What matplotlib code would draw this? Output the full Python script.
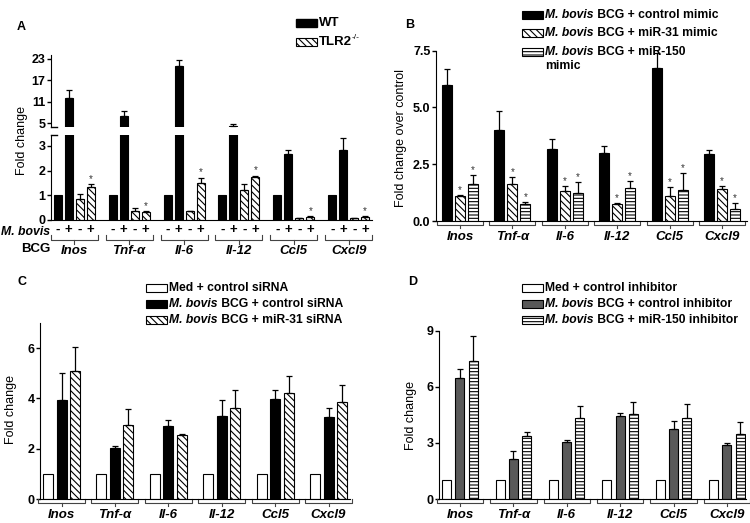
import matplotlib
matplotlib.use("Agg")
import matplotlib.pyplot as plt
from matplotlib.patches import Rectangle
from matplotlib.text import Annotation

plt.rcParams["font.family"] = ["Liberation Sans", "DejaVu Sans"]
plt.rcParams["font.weight"] = "bold"
plt.rcParams["hatch.linewidth"] = 0.8

W, H = 750, 523

genes = ["Inos", "Tnf-α", "Il-6", "Il-12", "Ccl5", "Cxcl9"]

# Panel A: WT vs TLR2-/-, medium (-) or M. bovis BCG (+)
a_wt_neg = [1, 1, 1, 1, 1, 1]
a_wt_pos = [11.9, 6.9, 20.9, 4.3, 2.68, 2.85]
a_wt_pos_err = [2.4, 1.6, 1.8, 0.4, 0.14, 0.45]
a_ko_neg = [0.85, 0.38, 0.35, 1.2, 0.08, 0.07]
a_ko_neg_err = [0.2, 0.12, 0.02, 0.25, 0.02, 0.01]
a_ko_pos = [1.33, 0.33, 1.48, 1.75, 0.14, 0.12]
a_ko_pos_err = [0.14, 0.02, 0.24, 0.05, 0.02, 0.03]

# Panel B: mimics
b_ctrl = [6.0, 4.0, 3.15, 3.0, 6.75, 2.95]
b_ctrl_err = [0.7, 0.85, 0.47, 0.3, 0.65, 0.17]
b_mir31 = [1.1, 1.65, 1.3, 0.75, 1.1, 1.4]
b_mir31_err = [0.03, 0.28, 0.25, 0.05, 0.4, 0.12]
b_mir150 = [1.65, 0.75, 1.25, 1.45, 1.35, 0.55]
b_mir150_err = [0.38, 0.07, 0.45, 0.3, 0.77, 0.23]

# Panel C: siRNA
c_med = [1, 1, 1, 1, 1, 1]
c_ctrl = [3.95, 2.03, 2.9, 3.3, 3.98, 3.27]
c_ctrl_err = [1.05, 0.07, 0.25, 0.62, 0.34, 0.33]
c_mir31 = [5.1, 2.93, 2.53, 3.6, 4.22, 3.85]
c_mir31_err = [0.95, 0.65, 0.07, 0.75, 0.68, 0.67]

# Panel D: inhibitors
d_med = [1, 1, 1, 1, 1, 1]
d_ctrl = [6.45, 2.12, 3.05, 4.45, 3.75, 2.88]
d_ctrl_err = [0.5, 0.43, 0.1, 0.15, 0.4, 0.1]
d_mir150 = [7.38, 3.35, 4.32, 4.57, 4.32, 3.48]
d_mir150_err = [1.32, 0.23, 0.66, 0.63, 0.78, 0.64]

TICK_FS = 9
GENE_FS = 9.5
LEG_FS = 8.7

fig = plt.figure(figsize=(W / 100, H / 100), dpi=100)


def px_axes(left, top, right, bottom):
    return fig.add_axes([left / W, 1 - bottom / H, (right - left) / W, (bottom - top) / H])


def style(ax, ticks, labels=None):
    ax.spines[["top", "right"]].set_visible(False)
    ax.set_yticks(ticks)
    ax.set_yticklabels(labels if labels else [str(t) for t in ticks], fontweight="bold",
                       fontsize=TICK_FS)
    ax.tick_params(axis="y", direction="out", length=3, width=1, pad=1)
    ax.tick_params(axis="x", length=0, labelbottom=False)


def draw_series(ax, xs, vals, errs, width, face, hatch=None, stars=False, ytop=None):
    ax.bar(xs, vals, width=width, color=face, edgecolor="black", linewidth=0.8,
           hatch=hatch, zorder=2)
    if errs is not None:
        ax.errorbar(xs, vals, yerr=[[0] * len(vals), errs], fmt="none", ecolor="black",
                    elinewidth=0.9, capsize=2, capthick=0.9, zorder=3)
    if stars:
        for x, v, e in zip(xs, vals, errs):
            top = v + e
            if ytop is None or top < ytop:
                ax.text(x, top, "*", ha="center", va="bottom", fontsize=7,
                        fontweight="normal", color="#333333")


def brackets(ax, centers, half, axh_px):
    tr = ax.get_xaxis_transform()
    for c, g in zip(centers, genes):
        ax.plot([c - half, c - half, c + half, c + half],
                [0, -4 / axh_px, -4 / axh_px, 0], color="#444444",
                lw=0.8, transform=tr, clip_on=False)
        ax.plot([c, c], [-4 / axh_px, -7 / axh_px], color="#444444", lw=0.8, transform=tr,
                clip_on=False)
        ax.text(c, -16 / axh_px, g, transform=tr, ha="center", va="center",
                fontsize=GENE_FS, fontstyle="italic", fontweight="bold")


def legend(items, x, y0, dy, size=LEG_FS):
    for i, (face, hatch, italic, rest) in enumerate(items):
        y = y0 + i * dy
        fig.add_artist(Rectangle((x / W, 1 - (y + 4) / H), 21 / W, 8 / H, facecolor=face,
                                 edgecolor="black", hatch=hatch, linewidth=0.8,
                                 transform=fig.transFigure))
        tx = x + 23
        if italic:
            t = fig.text(tx / W, 1 - y / H, italic, fontsize=size, fontstyle="italic",
                         fontweight="bold", va="center")
            fig.add_artist(Annotation(rest, xy=(1, 0), xycoords=t, va="bottom", ha="left",
                                      fontsize=size, fontweight="bold"))
        else:
            fig.text(tx / W, 1 - y / H, rest, fontsize=size, fontweight="bold", va="center")


HATCH_D = "\\\\\\\\\\"
HATCH_H = "-----"

# ---------------- Panel A (broken axis) ----------------
a_left, a_right = 51, 372
a_first, a_gp, a_bp, a_bw = 57.7, 54.9, 11.0, 8.0
ax_lo = px_axes(a_left, 135, a_right, 220)
ax_hi = px_axes(a_left, 55, a_right, 127)
for ax, lo, hi in [(ax_lo, 0, 3.44), (ax_hi, 3.9, 24.1)]:
    ax.set_xlim(a_left, a_right)
    ax.set_ylim(lo, hi)
    for j, (vals, errs, face, hatch, st) in enumerate([
            (a_wt_neg, None, "black", None, False),
            (a_wt_pos, a_wt_pos_err, "black", None, False),
            (a_ko_neg, a_ko_neg_err, "white", HATCH_D, False),
            (a_ko_pos, a_ko_pos_err, "white", HATCH_D, True)]):
        xs = [a_first + i * a_gp + j * a_bp for i in range(6)]
        draw_series(ax, xs, vals, errs, a_bw, face, hatch, st and ax is ax_lo, ytop=3.4)
style(ax_lo, [0, 1, 2, 3])
style(ax_hi, [5, 11, 17, 23])
ax_hi.spines["bottom"].set_visible(False)
# break marks
for ax, yv in [(ax_hi, 0.0), (ax_lo, 1.0)]:
    ax.plot([0, 6 / (a_right - a_left)], [yv, yv], transform=ax.transAxes, color="black",
            lw=1, clip_on=False)

tr = ax_lo.get_xaxis_transform()
for i in range(6):
    for j, s in enumerate(["-", "+", "-", "+"]):
        ax_lo.text(a_first + i * a_gp + j * a_bp, -10 / 85, s, transform=tr, ha="center",
                   va="center", fontsize=9.5, fontweight="bold")
    c = a_first + i * a_gp + 1.5 * a_bp
    half = 1.5 * a_bp + 7
    ax_lo.plot([c - half, c - half, c + half, c + half], [-15 / 85, -20 / 85, -20 / 85, -15 / 85],
               transform=tr, color="#444444", lw=0.8, clip_on=False)
    ax_lo.plot([c, c], [-20 / 85, -24 / 85], transform=tr, color="#444444", lw=0.8,
               clip_on=False)
    ax_lo.text(c, -31 / 85, genes[i], transform=tr, ha="center", va="center", fontsize=GENE_FS,
               fontstyle="italic", fontweight="bold")
fig.text(50 / W, 1 - 232 / H, "M. bovis", ha="right", va="center", fontsize=8.8,
         fontstyle="italic", fontweight="bold")
fig.text(50 / W, 1 - 249 / H, "BCG", ha="right", va="center", fontsize=9.5, fontweight="bold")
fig.text(22 / W, 1 - 140 / H, "Fold change", rotation=90, ha="center", va="center",
         fontsize=9, fontweight="normal")
fig.text(17 / W, 1 - 27 / H, "A", ha="left", va="center", fontsize=9, fontweight="bold")

fig.add_artist(Rectangle((296 / W, 1 - 27 / H), 21 / W, 8 / H, facecolor="black",
                         edgecolor="black", transform=fig.transFigure))
fig.add_artist(Rectangle((296 / W, 1 - 46 / H), 21 / W, 8 / H, facecolor="white",
                         edgecolor="black", hatch=HATCH_D, lw=0.8, transform=fig.transFigure))
fig.text(319 / W, 1 - 23 / H, "WT", va="center", fontsize=9.5, fontweight="bold")
tlr = fig.text(319 / W, 1 - 42 / H, "TLR2", va="center", fontsize=9.5, fontweight="bold")
fig.add_artist(Annotation("-/-", xy=(1, 0.55), xycoords=tlr, va="bottom", ha="left",
                          fontsize=6, fontweight="normal"))

# ---------------- Panel B ----------------
b_left, b_right = 436, 747
b_first, b_gp, b_bp, b_bw = 447, 52.4, 13.0, 10.0
axb = px_axes(b_left, 50.7, b_right, 221)
axb.set_xlim(b_left, b_right)
axb.set_ylim(0, 7.5)
for j, (vals, errs, face, hatch, st) in enumerate([
        (b_ctrl, b_ctrl_err, "black", None, False),
        (b_mir31, b_mir31_err, "white", HATCH_D, True),
        (b_mir150, b_mir150_err, "white", HATCH_H, True)]):
    xs = [b_first + i * b_gp + j * b_bp for i in range(6)]
    draw_series(axb, xs, vals, errs, b_bw, face, hatch, st)
style(axb, [0, 2.5, 5.0, 7.5], ["0.0", "2.5", "5.0", "7.5"])
brackets(axb, [b_first + i * b_gp + b_bp for i in range(6)], b_bp + 10, 170)
fig.text(401 / W, 1 - 138 / H, "Fold change over control", rotation=90, ha="center",
         va="center", fontsize=9, fontweight="normal")
fig.text(405 / W, 1 - 25 / H, "B", ha="left", va="center", fontsize=9, fontweight="bold")
legend([("black", None, "M. bovis", " BCG + control mimic"),
        ("white", HATCH_D, "M. bovis", " BCG + miR-31 mimic"),
        ("white", HATCH_H, "M. bovis", " BCG + miR-150")], 522, 15, 18.3)
fig.text(545 / W, 1 - 66 / H, "mimic", va="center", fontsize=LEG_FS, fontweight="bold")

# ---------------- Panel C ----------------
c_left, c_right = 40, 350
c_first, c_gp, c_bp, c_bw = 48, 53.4, 13.5, 10.0
axc = px_axes(c_left, 323, c_right, 499)
axc.set_xlim(c_left, c_right)
axc.set_ylim(0, 7.0)
for j, (vals, errs, face, hatch) in enumerate([
        (c_med, None, "white", None),
        (c_ctrl, c_ctrl_err, "black", None),
        (c_mir31, c_mir31_err, "white", HATCH_D)]):
    xs = [c_first + i * c_gp + j * c_bp for i in range(6)]
    draw_series(axc, xs, vals, errs, c_bw, face, hatch)
style(axc, [0, 2, 4, 6])
brackets(axc, [c_first + i * c_gp + c_bp for i in range(6)], c_bp + 10, 176)
fig.text(11 / W, 1 - 410 / H, "Fold change", rotation=90, ha="center", va="center",
         fontsize=9, fontweight="normal")
fig.text(17 / W, 1 - 282 / H, "C", ha="left", va="center", fontsize=9, fontweight="bold")
legend([("white", None, None, "Med + control siRNA"),
        ("black", None, "M. bovis", " BCG + control siRNA"),
        ("white", HATCH_D, "M. bovis", " BCG + miR-31 siRNA")], 146, 288, 16)

# ---------------- Panel D ----------------
d_left, d_right = 439, 746
d_first, d_gp, d_bp, d_bw = 446.7, 53.4, 13.2, 9.0
axd = px_axes(d_left, 330.7, d_right, 499)
axd.set_xlim(d_left, d_right)
axd.set_ylim(0, 9.0)
for j, (vals, errs, face, hatch) in enumerate([
        (d_med, None, "white", None),
        (d_ctrl, d_ctrl_err, "#595959", None),
        (d_mir150, d_mir150_err, "white", HATCH_H)]):
    xs = [d_first + i * d_gp + j * d_bp for i in range(6)]
    draw_series(axd, xs, vals, errs, d_bw, face, hatch)
style(axd, [0, 3, 6, 9])
brackets(axd, [d_first + i * d_gp + d_bp for i in range(6)], d_bp + 10, 168)
fig.text(411 / W, 1 - 415 / H, "Fold change", rotation=90, ha="center", va="center",
         fontsize=9, fontweight="normal")
fig.text(408 / W, 1 - 282 / H, "D", ha="left", va="center", fontsize=9, fontweight="bold")
legend([("white", None, None, "Med + control inhibitor"),
        ("#595959", None, "M. bovis", " BCG + control inhibitor"),
        ("white", HATCH_H, "M. bovis", " BCG + miR-150 inhibitor")], 522, 288, 16)

fig.savefig("out.png", dpi=100)
